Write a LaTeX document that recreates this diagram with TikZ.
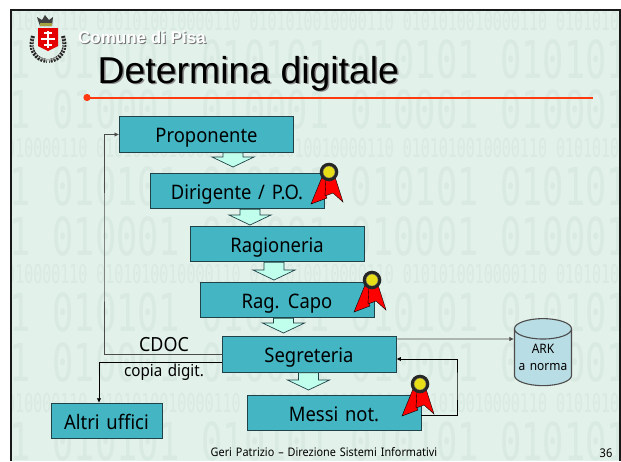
\documentclass[tikz,border=0pt]{standalone}
\usepackage{fontspec}
\setmainfont[FakeStretch=0.92,WordSpace=1.4]{Noto Sans}
\newfontfamily\titlefont{Liberation Sans}
\newfontfamily\wallfont{DejaVu Sans Mono}
\usetikzlibrary{calc, positioning, arrows.meta, shapes.geometric}
\definecolor{slidebg}{HTML}{E2F1E9}
\definecolor{wallgray}{HTML}{D9EAE2}
\definecolor{boxteal}{HTML}{43B5C3}
\definecolor{boxedge}{HTML}{1F4348}
\definecolor{hollowmint}{HTML}{BFFFEC}
\definecolor{arkblue}{HTML}{B9DDE4}
\definecolor{rulered}{HTML}{FF3A10}
\tikzset{
    x=1pt, y=-1pt,% one unit is one pixel of the slide, measured from the top
    office/.style = {rectangle, draw=boxedge, fill=boxteal, line width=0.9pt, minimum width=174pt, minimum height=35.5pt, inner sep=0pt, text height=16pt, text depth=0pt, font=\fontsize{20}{22}\selectfont},
    flow/.style = {draw=black!70, line width=0.8pt, -{Latex[length=4.5pt,width=4.5pt]}},
    hollow/.style = {draw=boxedge, fill=hollowmint, line width=0.7pt},
    wall/.style = {anchor=base west, inner sep=0pt, text=wallgray, transform shape, font=\wallfont},
    lbl/.style = {inner sep=0pt},
    ribbon/.pic = {
        \draw[fill=red, draw=black, line width=0.4pt] (-7,5) -- (-18,32) -- (-2,26) -- (-4,22) -- (-1,5) -- cycle;
        \draw[fill=red, draw=black, line width=0.4pt] (-3,5) -- (-4,24) -- (4,21) -- (14,30) -- (6,5) -- cycle;
        \fill[black!85] (0,0) circle (9.3);
        \draw[fill=yellow!90!black, draw=black!60, line width=0.4pt] (0,0) circle (6);
    }
}
% block arrow from a box down to a named tip
\newcommand{\blockflow}[2]{
    \draw[hollow] ([xshift=-10pt]#1.south -| #2) -- ([shift={(-10,-10)}]#2) -- ([shift={(-21,-10)}]#2) -- (#2)
        -- ([shift={(21,-10)}]#2) -- ([shift={(10,-10)}]#2) -- ([xshift=10pt]#1.south -| #2) -- cycle;
}
\begin{document}
\begin{tikzpicture}
    \useasboundingbox (0,0) rectangle (621,461);
    \fill[white] (0,0) rectangle (621,461);
    \begin{scope}
        \clip (11,10) rectangle (619.5,461);
        \fill[slidebg] (11,10) rectangle (621,461);
        % background digits
        \foreach \ypos in {30,157,283,412}
            \node[wall, xscale=0.76, yscale=1.32, font=\wallfont\fontsize{19.7}{20}\selectfont] at (-57,\ypos) {0101010010000110 0101010010000110 0101010010000110 0101010010000110 0101010010000110};
        \foreach \ypos/\word in {78/010101,128/010001,205/010101,255/010001,331/010101,381/010001,460/010101}
            \node[wall, xscale=0.76, yscale=1.12, font=\wallfont\fontsize{46.6}{47}\selectfont] at (-97,\ypos) {\word{} \word{} \word{} \word{} \word{}};
    \end{scope}
    \draw[black!90, line width=2.4pt] (11,461) -- (11,10) -- (620,10) -- (620,461);

    % crest
    \draw[black!85, line width=4pt, dash pattern=on 2pt off 1pt] (33,36) .. controls (28,50) and (36,60) .. (47,61);
    \draw[black!85, line width=4pt, dash pattern=on 2pt off 1pt] (63,36) .. controls (68,50) and (60,60) .. (49,61);
    \draw[black!30, line width=1.2pt, dash pattern=on 1.5pt off 2pt] (33,38) .. controls (29,50) and (36,59) .. (47,60);
    \draw[black!30, line width=1.2pt, dash pattern=on 1.5pt off 2pt] (63,38) .. controls (67,50) and (60,59) .. (49,60);
    \fill[black!75] (40,26) -- (37,17) -- (42,20) -- (45,15) -- (49,20) -- (53,17) -- (52,26) -- cycle;
    \fill[yellow!60!black] (40,23) rectangle (52,26);
    \fill[red!90!black] (38,28) -- (58,28) -- (58,46) -- (48,51) -- (38,46) -- cycle;
    \draw[white, line width=1.1pt] (48,31) -- (48,48) (41,39) -- (55,39) (44,33) -- (52,33) (44,45) -- (52,45);

    \node[lbl, text=black!55, font=\titlefont\bfseries\fontsize{17}{18}\selectfont, anchor=west] at (79,38) {Comune di Pisa};
    \node[lbl, text=white, font=\titlefont\bfseries\fontsize{17}{18}\selectfont, anchor=west] (comune) at (78,37) {Comune di Pisa};
    \node[lbl, text=black!45, font=\titlefont\fontsize{37.4}{40}\selectfont, anchor=west] at (99,75) {Determina digitale};
    \node[lbl, font=\titlefont\fontsize{37.4}{40}\selectfont, anchor=west] (titolo) at (97.5,73.5) {Determina digitale};
    \draw[rulered, line width=2pt] (87,97.5) -- (593,97.5);
    \fill[rulered] (87,97.5) circle (3.6);

    \node[office] (proponente) at (206.5,134.5) {Proponente};
    \node[office] (dirigente) at (237,191) {Dirigente / P.O.};
    \node[office] (ragioneria) at (277,244) {Ragioneria};
    \node[office] (capo) at (287,300) {Rag. Capo};
    \node[office] (segreteria) at (309,354.5) {Segreteria};
    \node[office] (messi) at (334,413) {Messi not.};
    \node[office, minimum width=111pt] (altri) at (106.5,421) {Altri uffici};
    \node[cylinder, shape border rotate=90, aspect=0.42, draw=black!70, fill=arkblue, line width=1.1pt, minimum width=57pt, minimum height=67pt, inner sep=0pt, align=center, font=\fontsize{13}{16.5}\selectfont] (ark) at (543,357.5) {ARK\\a norma};

    \coordinate (tipa) at (233,167);
    \coordinate (tipb) at (250,225);
    \coordinate (tipc) at (274,280);
    \coordinate (tipd) at (283.5,333);
    \coordinate (tipe) at (308.5,390);
    \blockflow{proponente}{tipa}
    \blockflow{dirigente}{tipb}
    \blockflow{ragioneria}{tipc}
    \blockflow{capo}{tipd}
    \blockflow{segreteria}{tipe}

    \coordinate (ritorno) at (104,250);
    \coordinate (archivio) at (457,385);
    \draw[flow] ([yshift=0.5pt]segreteria.west) -| (ritorno) |- (proponente.west);
    \draw[flow, draw=black] ([yshift=-7.5pt]segreteria.west) -| ([xshift=-7.5pt]altri.north);
    \draw[flow] ([shift={(1,-15.5)}]segreteria.east) -- ([yshift=18.5pt]ark.west);
    \draw[flow, draw=black] ([yshift=-2pt]messi.east) -| (archivio) |- ([yshift=-4.5pt]segreteria.east);

    \node[lbl, font=\fontsize{19.5}{21}\selectfont] (cdoc) at (164,345) {CDOC};
    \node[lbl, font=\fontsize{16.5}{18}\selectfont] (copiadigit) at (164,372) {copia digit.};

    \pic at (329,172) {ribbon};
    \pic at (372,280) {ribbon};
    \pic at (420,384) {ribbon};

    \node[lbl, font=\fontsize{11.8}{13}\selectfont] (piede) at (324,452) {Geri Patrizio – Direzione Sistemi Informativi};
    \node[lbl, font=\fontsize{12}{13}\selectfont] (numero) at (606,453) {36};
\end{tikzpicture}
\end{document}
